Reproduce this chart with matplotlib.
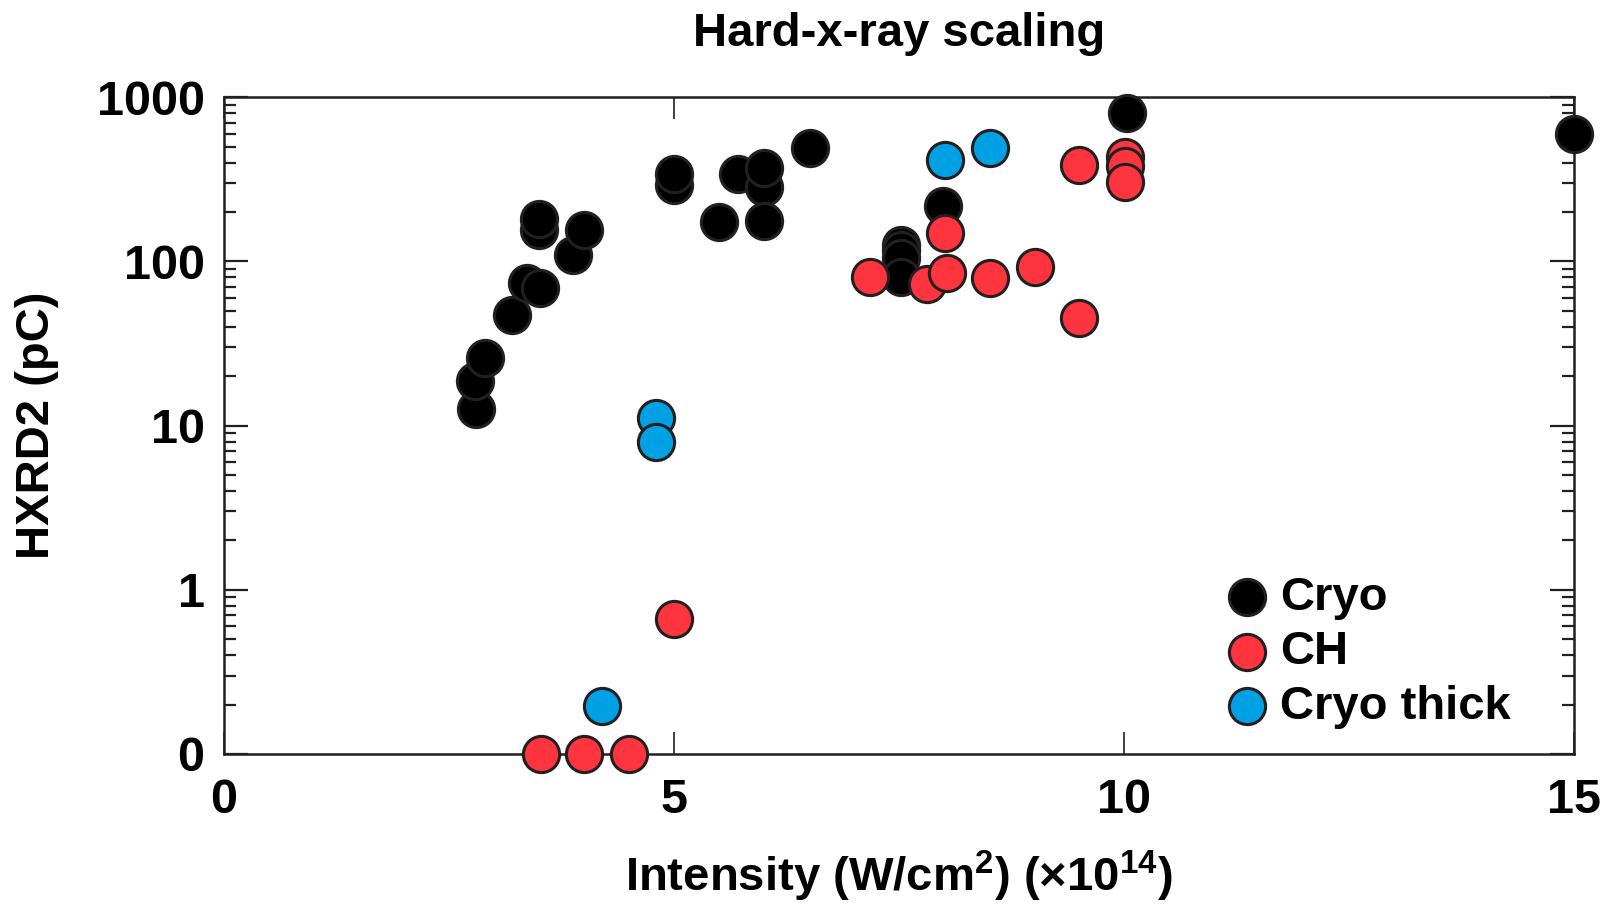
import matplotlib
matplotlib.use("Agg")
import matplotlib.pyplot as plt
from matplotlib.ticker import FixedLocator, FixedFormatter, LogLocator, NullFormatter, NullLocator

plt.rcParams['font.family'] = ['Liberation Sans', 'DejaVu Sans']
plt.rcParams['font.weight'] = 'bold'
plt.rcParams['mathtext.default'] = 'regular'

# intensity (x1e14 W/cm2) and HXRD2 signal (pC); 0 pC is drawn at 0.1
cryo_x = [2.80, 2.79, 2.90, 3.20, 3.37, 3.51, 3.50, 3.50, 3.88, 4.00,
          5.00, 5.00, 5.50, 5.71, 6.00, 6.00, 6.00, 6.51,
          7.52, 7.52, 7.52, 7.52, 7.99, 10.03, 15.0]
cryo_y = [12.6, 18.6, 26, 47, 74, 69, 156, 181, 110, 155,
          293, 340, 173, 340, 286, 373, 177, 494,
          126, 118, 105, 81, 218, 806, 596]

ch_x = [3.52, 4.00, 4.50, 5.00, 7.18, 7.81, 8.03, 8.01, 8.51, 9.01,
        9.50, 9.50, 10.01, 10.01, 10.01]
ch_y = [0.1, 0.1, 0.1, 0.66, 81, 73, 85, 150, 79, 93,
        45, 386, 435, 382, 303]

thick_x = [4.20, 4.80, 4.80, 8.01, 8.51]
thick_y = [0.196, 11.1, 8.0, 416, 490]

ytick_vals = [0.1, 1, 10, 100, 1000]
ytick_labels = ["0", "1", "10", "100", "1000"]
xtick_vals = [0, 5, 10, 15]

fig = plt.figure(figsize=(16.12, 9.07), dpi=100)
ax = fig.add_axes([0.139, 0.1687, 0.8375, 0.724])

edge = '#231f20'
ms = 680
ax.scatter(cryo_x, cryo_y, s=ms, c='black', edgecolors=edge, linewidths=2.2,
           label='Cryo', zorder=3, clip_on=False)
ax.scatter(ch_x, ch_y, s=ms, c='#fe353f', edgecolors=edge, linewidths=2.2,
           label='CH', zorder=3, clip_on=False)
ax.scatter(thick_x, thick_y, s=ms, c='#00a1e4', edgecolors=edge, linewidths=2.2,
           label='Cryo thick', zorder=3, clip_on=False)

ax.set_yscale('log')
ax.set_ylim(0.1, 1000)
ax.set_xlim(0, 15)

ax.yaxis.set_major_locator(FixedLocator(ytick_vals))
ax.yaxis.set_major_formatter(FixedFormatter(ytick_labels))
ax.yaxis.set_minor_locator(LogLocator(base=10, subs=range(2, 10)))
ax.yaxis.set_minor_formatter(NullFormatter())
ax.xaxis.set_major_locator(FixedLocator(xtick_vals))
ax.xaxis.set_minor_locator(NullLocator())

ax.tick_params(axis='both', which='both', direction='in', top=True, right=True,
               color=edge, labelsize=35)
ax.tick_params(axis='y', which='major', length=17, width=1.6, pad=14)
ax.tick_params(axis='y', which='minor', length=8.5, width=1.6)
ax.tick_params(axis='x', which='major', length=16, width=1.2, pad=17)
for lab in ax.get_xticklabels() + ax.get_yticklabels():
    lab.set_fontweight('bold')
for sp in ax.spines.values():
    sp.set_linewidth(1.8)
    sp.set_color(edge)

ax.set_title("Hard-x-ray scaling", fontsize=34, fontweight='bold', pad=37)
ax.set_xlabel("Intensity (W/cm$^2$) (×10$^{14}$)", fontsize=34, fontweight='bold', labelpad=19)
ax.set_ylabel("HXRD2 (pC)", fontsize=34, fontweight='bold', labelpad=27)

leg = ax.legend(loc='upper left', bbox_to_anchor=(0.709, 0.30), frameon=False,
                fontsize=34, handletextpad=-0.3, labelspacing=0.22, borderaxespad=0,
                scatterpoints=1, markerscale=1.0)
for t in leg.get_texts():
    t.set_fontweight('bold')

fig.savefig("out.png", dpi=100)
